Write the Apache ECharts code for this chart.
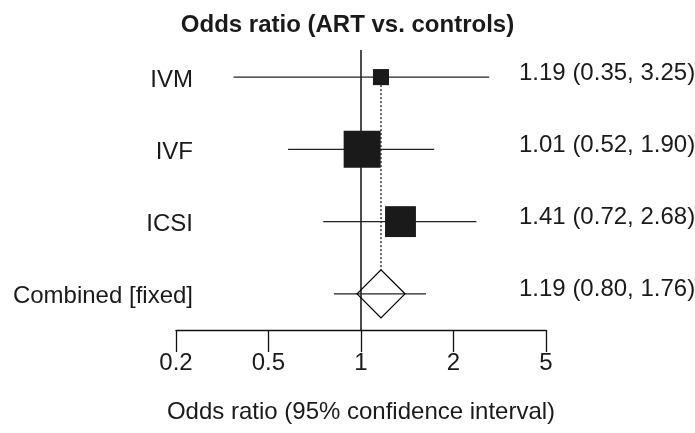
<!DOCTYPE html>
<html>
<head>
<meta charset="utf-8">
<script src="https://cdn.jsdelivr.net/npm/echarts@6/dist/echarts.min.js"></script>
<style>html,body{margin:0;padding:0;background:#fff}#c{width:695px;height:433px}</style>
</head>
<body>
<div id="c"></div>
<script>
// ---- data ----
const rowNames = ['IVM', 'IVF', 'ICSI', 'Combined [fixed]'];
const studyOR = [1.19, 1.01, 1.41];
const studyLow = [0.33, 0.53, 0.72];
const studyHigh = [3.05, 1.89, 2.73];
const studyWeight = [10, 53, 37];
const pooledOR = 1.19;
const pooledLow = 0.79;
const pooledHigh = 1.76;
const resultText = ['1.19 (0.35, 3.25)', '1.01 (0.52, 1.90)', '1.41 (0.72, 2.68)', '1.19 (0.80, 1.76)'];
// tick marks as drawn in the picture (evenly spaced on the log axis) and their printed labels
const xTickValues = [0.2, 0.447, 1, 2.236, 5];
const xTickLabels = ['0.2', '0.5', '1', '2', '5'];

// ---- build ----
const FONT = '"Liberation Sans", Arial, Helvetica, sans-serif';
const TXT = '#1a1a1a';
const xMin = xTickValues[0], xMax = xTickValues[xTickValues.length - 1];
const yMin = -0.375, yMax = 3.5;
const pooledRow = studyOR.length;

const ciData = studyOR.map((v, i) => [studyLow[i], studyHigh[i], i]).concat([[pooledLow, pooledHigh, pooledRow]]);
const squareData = studyOR.map((v, i) => [v, i, studyWeight[i]]);
const labelData = rowNames.map((n, i) => [xMin, i, n, resultText[i]]);

function tickLabel(v) {
  let best = 0, bd = Infinity;
  xTickValues.forEach((t, i) => { const d = Math.abs(Math.log(t) - Math.log(v)); if (d < bd) { bd = d; best = i; } });
  return xTickLabels[best];
}

const chart = echarts.init(document.getElementById('c'), null, {renderer: 'canvas'});
chart.setOption({
  animation: false,
  title: {
    text: 'Odds ratio (ART vs. controls)',
    left: 'center', top: 8,
    textStyle: {fontFamily: FONT, fontSize: 24, fontWeight: 'bold', color: TXT}
  },
  grid: {left: 176, right: 149, top: 50, bottom: 103},
  xAxis: {
    type: 'log', logBase: 10, min: xMin, max: xMax,
    axisLine: {show: true, onZero: false, lineStyle: {color: '#111', width: 1.3}},
    axisTick: {show: true, customValues: xTickValues, length: 22, lineStyle: {color: '#111', width: 1.3}},
    axisLabel: {customValues: xTickValues, formatter: v => tickLabel(v), fontFamily: FONT, fontSize: 24, color: TXT, margin: 21},
    splitLine: {show: false},
    minorTick: {show: false},
    name: 'Odds ratio (95% confidence interval)',
    nameLocation: 'middle', nameGap: 70,
    nameTextStyle: {fontFamily: FONT, fontSize: 24, color: TXT}
  },
  yAxis: {type: 'value', min: yMin, max: yMax, inverse: true, show: false},
  series: [
    { // reference line at OR = 1
      type: 'custom', clip: false, z: 2,
      data: [[1]],
      renderItem: (params, api) => {
        const a = api.coord([api.value(0), yMin]);
        const b = api.coord([api.value(0), yMax]);
        return {type: 'line', shape: {x1: a[0], y1: a[1], x2: b[0], y2: b[1]}, style: {stroke: '#000', lineWidth: 1.4}};
      }
    },
    { // dotted line at pooled estimate
      type: 'custom', clip: false, z: 2,
      data: [[pooledOR]],
      renderItem: (params, api) => {
        const a = api.coord([api.value(0), 0]);
        const b = api.coord([api.value(0), pooledRow]);
        return {type: 'line', shape: {x1: a[0], y1: a[1], x2: b[0], y2: b[1] - 24}, style: {stroke: '#000', lineWidth: 1.2, lineDash: [2, 2]}};
      }
    },
    { // confidence intervals
      type: 'custom', clip: false, z: 3,
      data: ciData,
      renderItem: (params, api) => {
        const a = api.coord([api.value(0), api.value(2)]);
        const b = api.coord([api.value(1), api.value(2)]);
        return {type: 'line', shape: {x1: a[0], y1: a[1], x2: b[0], y2: b[1]}, style: {stroke: '#222', lineWidth: 1.3}};
      }
    },
    { // study squares sized by weight
      type: 'custom', clip: false, z: 4,
      data: squareData,
      renderItem: (params, api) => {
        const c = api.coord([api.value(0), api.value(1)]);
        const s = Math.sqrt(api.value(2)) * 5.08;
        return {type: 'rect', shape: {x: c[0] - s / 2, y: c[1] - s / 2, width: s, height: s}, style: {fill: '#1a1a1a'}};
      }
    },
    { // pooled diamond
      type: 'custom', clip: false, z: 4,
      data: [[pooledOR, pooledRow]],
      renderItem: (params, api) => {
        const c = api.coord([api.value(0), api.value(1)]);
        const h = 24;
        return {type: 'polygon', shape: {points: [[c[0] - h, c[1]], [c[0], c[1] - h], [c[0] + h, c[1]], [c[0], c[1] + h]]}, style: {fill: 'none', stroke: '#000', lineWidth: 1.3}};
      }
    },
    { // row labels and results
      type: 'custom', clip: false, z: 5,
      data: labelData,
      renderItem: (params, api) => {
        const left = api.coord([xMin, api.value(1)]);
        const right = api.coord([xMax, api.value(1)]);
        const item = labelData[params.dataIndex];
        return {type: 'group', children: [
          {type: 'text', style: {text: item[2], x: left[0] + 17, y: left[1] + 3, align: 'right', verticalAlign: 'middle', fontFamily: FONT, fontSize: 24, fill: TXT}},
          {type: 'text', style: {text: item[3], x: right[0] - 27, y: right[1] - 4, align: 'left', verticalAlign: 'middle', fontFamily: FONT, fontSize: 24, fill: TXT}}
        ]};
      }
    }
  ]
});
</script>
</body>
</html>
